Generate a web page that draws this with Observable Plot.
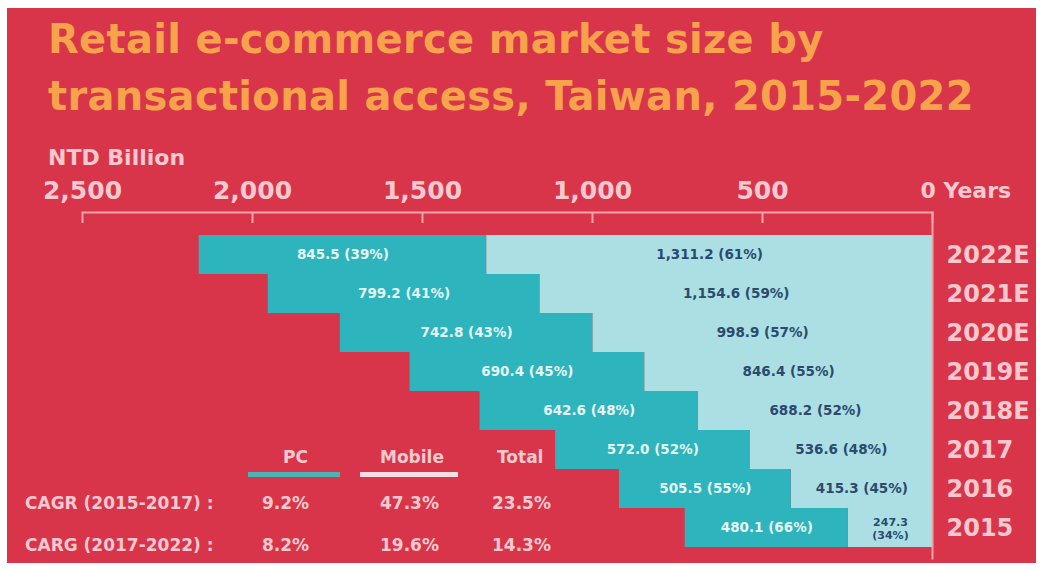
<!DOCTYPE html>
<html>
<head>
<meta charset="utf-8">
<script src="https://cdn.jsdelivr.net/npm/d3@7"></script>
<script src="https://cdn.jsdelivr.net/npm/@observablehq/plot@0.6"></script>
<style>
  body { margin:0; background:#ffffff; width:1041px; height:570px; overflow:hidden; position:relative; }
  #bg { position:absolute; left:7px; top:8px; width:1029px; height:555px; background:#d8354b; }
  #title { position:absolute; left:48px; top:11px; font-family:"DejaVu Sans", sans-serif; font-weight:bold; font-size:40px; line-height:57px; color:#f6a34c; letter-spacing:0.3px; white-space:nowrap; }
  .lbl { position:absolute; font-family:"DejaVu Sans", sans-serif; font-weight:bold; color:#f7c9cf; white-space:nowrap; line-height:17px; font-size:17px; }
  #unit { font-size:22px; line-height:22px; }
  #chart { position:absolute; left:0; top:140px; }
  .bar { position:absolute; height:5px; }
</style>
</head>
<body>
<div id="bg"></div>
<div id="title">Retail e-commerce market size by<br>transactional access, Taiwan, 2015-2022</div>
<div id="unit" class="lbl" style="left:48px; top:147px;">NTD Billion</div>
<div id="chart"></div>
<div id="legend"></div>
<script>
// ---- data ----
const years = ["2022E", "2021E", "2020E", "2019E", "2018E", "2017", "2016", "2015"];
const pcValues = [845.5, 799.2, 742.8, 690.4, 642.6, 572.0, 505.5, 480.1];
const pcShares = [39, 41, 43, 45, 48, 52, 55, 66];
const mobileValues = [1311.2, 1154.6, 998.9, 846.4, 688.2, 536.6, 415.3, 247.3];
const mobileShares = [61, 59, 57, 55, 52, 48, 45, 34];
const xTicks = [2500, 2000, 1500, 1000, 500];
const zeroLabel = "0 Years";
const growthHeaders = ["PC", "Mobile", "Total"];
const growthPeriods = ["CAGR (2015-2017) :", "CARG (2017-2022) :"];
const growthPC = ["9.2%", "8.2%"];
const growthMobile = ["47.3%", "19.6%"];
const growthTotal = ["23.5%", "14.3%"];

// ---- colours ----
const pcColor = "#2db4bc";
const mobileColor = "#acdfe3";
const pinkText = "#f7c9cf";
const axisColor = "#f3a2ab";

const rows = [];
years.forEach((y, i) => {
  rows.push({year: y, type: "Mobile", value: mobileValues[i], share: mobileShares[i]});
  rows.push({year: y, type: "PC", value: pcValues[i], share: pcShares[i]});
});
const fmt = d3.format(",.1f");
const narrow = d => d.value < 300;
const label = d => narrow(d) ? `${fmt(d.value)}\n(${d.share}%)` : `${fmt(d.value)} (${d.share}%)`;

const stackOpts = {x: "value", y: "year", z: "type", order: ["Mobile", "PC"]};

const chart = Plot.plot({
  width: 1041,
  height: 425,
  marginTop: 72,
  marginLeft: 82,
  marginRight: 109,
  marginBottom: 7,
  style: {fontFamily: "DejaVu Sans", fontWeight: "bold", background: "transparent", overflow: "visible"},
  x: {domain: [0, 2500], reverse: true, label: null},
  y: {domain: years, padding: 0, insetTop: 21, insetBottom: 10, label: null},
  color: {domain: ["PC", "Mobile"], range: [pcColor, mobileColor]},
  marks: [
    Plot.barX(rows, Plot.stackX({...stackOpts, fill: "type"})),
    Plot.text(rows, Plot.stackX({...stackOpts, text: d => d.type === "PC" ? label(d) : "", fill: "#e4f6f6", fontSize: 13.5})),
    Plot.text(rows, Plot.stackX({...stackOpts, text: d => d.type === "Mobile" && !narrow(d) ? label(d) : "", fill: "#2b4a6e", fontSize: 13.5})),
    Plot.text(rows, Plot.stackX({...stackOpts, text: d => d.type === "Mobile" && narrow(d) ? label(d) : "", fill: "#2b4a6e", fontSize: 11, lineHeight: 1.2})),
    Plot.frame({anchor: "top", stroke: axisColor, strokeWidth: 2}),
    Plot.frame({anchor: "right", stroke: axisColor, strokeWidth: 2}),
    Plot.axisX({anchor: "top", ticks: [...xTicks, 0], tickSize: 10, dy: 10, tickFormat: () => "", stroke: axisColor, strokeWidth: 2}),
    Plot.axisX({anchor: "top", ticks: xTicks, tickSize: 0, tickPadding: 14, tickFormat: d3.format(","), fill: pinkText, fontSize: 25}),
    Plot.axisX({anchor: "top", ticks: [0], tickSize: 0, tickPadding: 15, tickFormat: () => zeroLabel, textAnchor: "start", dx: -12, fill: pinkText, fontSize: 22}),
    Plot.axisY({anchor: "right", tickSize: 0, tickPadding: 14, textAnchor: "start", fill: pinkText, fontSize: 24})
  ]
});
document.getElementById("chart").appendChild(chart);

// ---- growth table / legend ----
const legend = document.getElementById("legend");
function addText(txt, left, top) {
  const s = document.createElement("div");
  s.className = "lbl";
  s.textContent = txt;
  s.style.left = left + "px";
  s.style.top = top + "px";
  legend.appendChild(s);
}
const colLeft = [262, 380, 492];
const headLeft = [283, 380, 497];
growthHeaders.forEach((h, i) => addText(h, headLeft[i], 449));
const b1 = document.createElement("div"); b1.className = "bar";
b1.style.cssText += `left:248px;top:472px;width:92px;background:#4ab3b4;`;
legend.appendChild(b1);
const b2 = document.createElement("div"); b2.className = "bar";
b2.style.cssText += `left:360px;top:472px;width:98px;background:#f6dde3;`;
legend.appendChild(b2);
const rowTops = [495, 537];
growthPeriods.forEach((p, r) => {
  addText(p, 25, rowTops[r]);
  addText(growthPC[r], colLeft[0], rowTops[r]);
  addText(growthMobile[r], colLeft[1], rowTops[r]);
  addText(growthTotal[r], colLeft[2], rowTops[r]);
});
</script>
</body>
</html>
